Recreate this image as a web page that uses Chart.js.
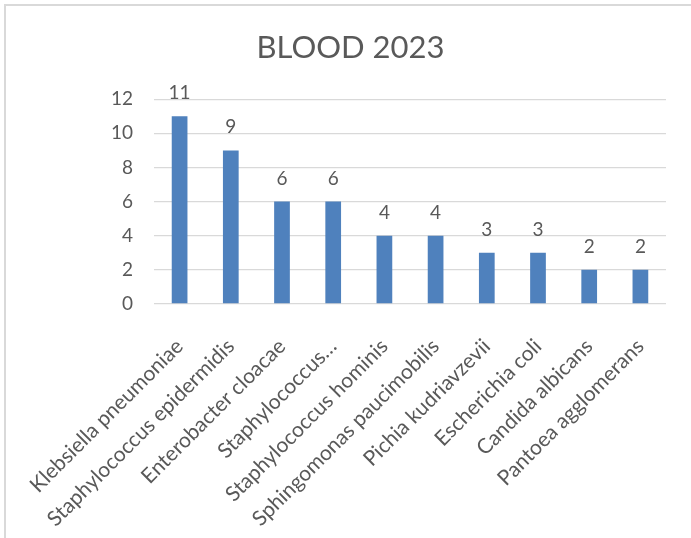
<!DOCTYPE html>
<html>
<head>
<meta charset="utf-8">
<script src="https://cdn.jsdelivr.net/npm/chart.js@4/dist/chart.umd.min.js"></script>
<style>
  html, body { margin: 0; padding: 0; background: #ffffff; overflow: hidden; }
  #frame {
    position: absolute; left: 4px; top: 4px; width: 720px; height: 560px;
    border-left: 2px solid #d9d9d9; border-top: 2px solid #d9d9d9;
  }
  #chart { position: absolute; left: 0; top: 0; }
</style>
</head>
<body>
<div id="frame"></div>
<canvas id="chart" width="691" height="538"></canvas>
<script>
// Isolates from blood cultures, 2023
const categories = [
  'Klebsiella pneumoniae',
  'Staphylococcus epidermidis',
  'Enterobacter cloacae',
  'Staphylococcus…',
  'Staphylococcus hominis',
  'Sphingomonas paucimobilis',
  'Pichia kudriavzevii',
  'Escherichia coli',
  'Candida albicans',
  'Pantoea agglomerans'
];
const counts = [11, 9, 6, 6, 4, 4, 3, 3, 2, 2];
const yTicks = [0, 2, 4, 6, 8, 10, 12];

const TEXT = '#595959';
const FONT = 'Lato, "Liberation Sans", sans-serif';

// Writes each bar's value above it
const valueLabels = {
  id: 'valueLabels',
  afterDatasetsDraw(chart) {
    const ctx = chart.ctx;
    ctx.save();
    ctx.fillStyle = TEXT;
    ctx.font = '19px ' + FONT;
    ctx.textAlign = 'center';
    ctx.textBaseline = 'alphabetic';
    chart.getDatasetMeta(0).data.forEach((bar, i) => {
      ctx.fillText(String(counts[i]), bar.x, bar.y - 17);
    });
    ctx.restore();
  }
};

new Chart(document.getElementById('chart'), {
  type: 'bar',
  data: {
    labels: categories,
    datasets: [{
      data: counts,
      backgroundColor: '#4f81bd',
      borderWidth: 0,
      barPercentage: 1,
      categoryPercentage: 0.307
    }]
  },
  options: {
    responsive: false,
    animation: false,
    layout: { padding: { left: 35, right: 25, top: 0, bottom: 0 } },
    plugins: {
      legend: { display: false },
      tooltip: { enabled: false },
      title: {
        display: true,
        text: 'BLOOD 2023',
        color: TEXT,
        font: { family: FONT, size: 31, weight: 'normal' },
        padding: { top: 29, bottom: 33 }
      }
    },
    scales: {
      x: {
        grid: { display: false },
        border: { display: false },
        ticks: {
          color: TEXT,
          font: { family: FONT, size: 21 },
          minRotation: 45,
          maxRotation: 45,
          autoSkip: false,
          padding: 22
        },
        afterFit(scale) { scale.height = 234; }
      },
      y: {
        min: 0,
        max: 12,
        border: { display: false },
        grid: { color: '#d9d9d9', lineWidth: 1.3, drawTicks: false },
        afterBuildTicks(scale) { scale.ticks = yTicks.map(v => ({ value: v })); },
        ticks: {
          color: TEXT,
          font: { family: FONT, size: 19 },
          padding: 21
        },
        afterFit(scale) { scale.width = 119; }
      }
    }
  },
  plugins: [valueLabels]
});
</script>
</body>
</html>
